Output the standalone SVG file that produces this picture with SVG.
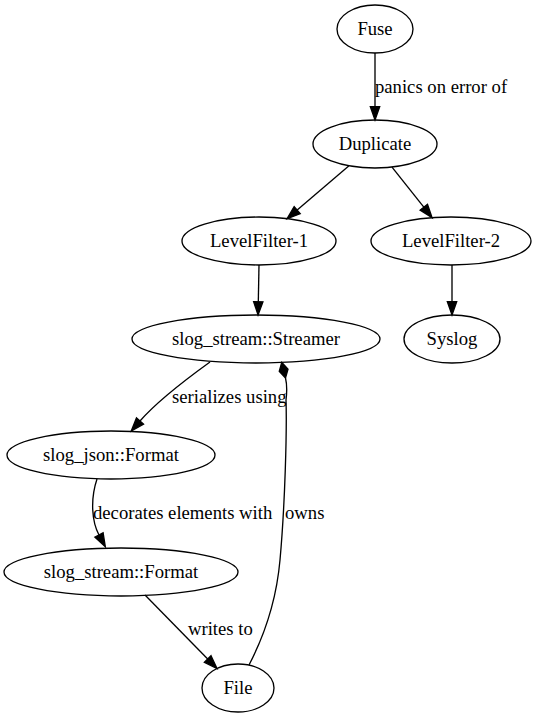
<svg xmlns="http://www.w3.org/2000/svg" width="536" height="717" viewBox="0 0 536 717" font-family="Liberation Serif, Times New Roman, Tinos, DejaVu Serif, serif" font-size="18.67">
<style>
.n ellipse{fill:none;stroke:#000;stroke-width:1.33}
text{font-family:'Liberation Serif','Times New Roman',Tinos,'DejaVu Serif',serif;font-size:18.67px;fill:#000}
.n text{text-anchor:middle}
.e path{fill:none;stroke:#000;stroke-width:1.33}
</style>
<defs>
<marker id="arr" markerUnits="userSpaceOnUse" viewBox="0 -6 15 12" refX="0" refY="0" markerWidth="15" markerHeight="12" orient="auto" overflow="visible">
<path d="M0,-4.67 L13.33,0 L0,4.67 Z" fill="#000" stroke="#000" stroke-width="1.33"/>
</marker>
<marker id="dia" markerUnits="userSpaceOnUse" viewBox="0 -6 17 12" refX="0" refY="0" markerWidth="17" markerHeight="12" orient="auto" overflow="visible">
<path d="M0,0 L8,-4.5 L16,0 L8,4.5 Z" fill="#000" stroke="#000" stroke-width="1.33"/>
</marker>
</defs>
<rect width="536" height="717" fill="#fff"/>
<g id="edges" class="e">
<path d="M375,53 L375,106.7" marker-end="url(#arr)"/>
<text x="375" y="93">panics on error of</text>
<path d="M349,165.8 L297.2,210.1" marker-end="url(#arr)"/>
<path d="M392,167.1 L423.8,207.2" marker-end="url(#arr)"/>
<path d="M259,265 L258.3,301.7" marker-end="url(#arr)"/>
<path d="M452,265 L452,301.7" marker-end="url(#arr)"/>
<path d="M210,362 C192,375 160,398 140,421" marker-end="url(#arr)"/>
<text x="172" y="403">serializes using</text>
<path d="M97,479 C90,500 92,522 99,535" marker-end="url(#arr)"/>
<text x="93" y="519">decorates elements with</text>
<path d="M145,595 L207.7,659" marker-end="url(#arr)"/>
<text x="188" y="635">writes to</text>
<path d="M249,665 C262,640 276,605 280,560 C285,505 287,430 286,400 C287,392 286.7,383 285.5,378" marker-end="url(#dia)"/>
<text x="285" y="519">owns</text>
</g>
<g id="Fuse" class="n"><ellipse cx="375" cy="29" rx="38" ry="24"/><text x="375" y="35">Fuse</text></g>
<g id="Duplicate" class="n"><ellipse cx="375" cy="144" rx="62" ry="24"/><text x="375" y="150">Duplicate</text></g>
<g id="LevelFilter1" class="n"><ellipse cx="259" cy="241" rx="77" ry="24"/><text x="259" y="247">LevelFilter-1</text></g>
<g id="LevelFilter2" class="n"><ellipse cx="451" cy="241" rx="80" ry="24"/><text x="451" y="247">LevelFilter-2</text></g>
<g id="Streamer" class="n"><ellipse cx="256" cy="339" rx="124" ry="24"/><text x="256" y="345">slog_stream::Streamer</text></g>
<g id="Syslog" class="n"><ellipse cx="452" cy="339" rx="48" ry="24"/><text x="452" y="345">Syslog</text></g>
<g id="JsonFormat" class="n"><ellipse cx="111" cy="455" rx="104" ry="24"/><text x="111" y="461">slog_json::Format</text></g>
<g id="StreamFormat" class="n"><ellipse cx="121" cy="572" rx="117" ry="24"/><text x="121" y="578">slog_stream::Format</text></g>
<g id="File" class="n"><ellipse cx="238" cy="688" rx="36" ry="24"/><text x="238" y="694">File</text></g>
</svg>
